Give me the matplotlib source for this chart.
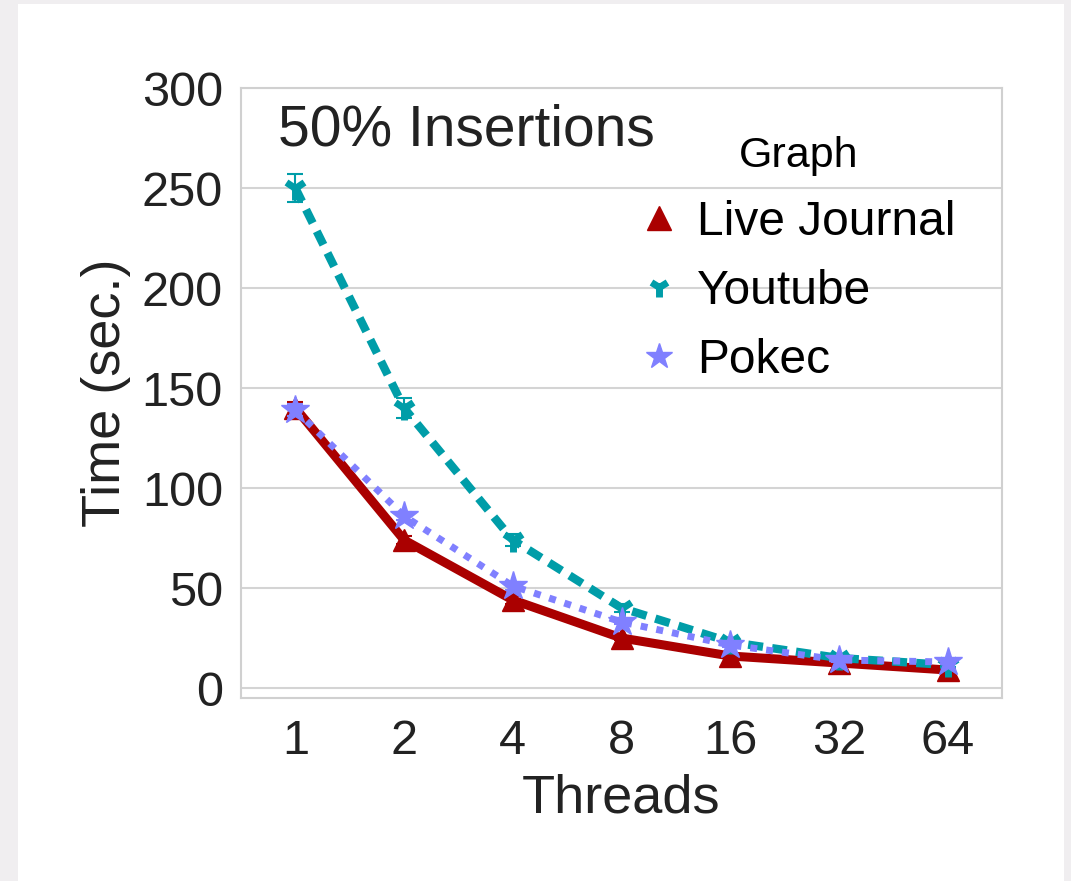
import numpy as np
import matplotlib
matplotlib.use("Agg")
import matplotlib.pyplot as plt
from matplotlib.patches import Rectangle

plt.rcParams['font.family'] = ['Liberation Sans', 'DejaVu Sans']

threads = ["1", "2", "4", "8", "16", "32", "64"]
live_journal = [140, 74, 44, 25, 16, 12.5, 9]
youtube = [250, 140, 74, 40, 23, 15, 11.5]
pokec = [139, 86, 51, 33, 21.5, 14, 13]
live_journal_err = [3, 2, 2, 1, 1, 1, 1]
youtube_err = [7, 5, 3, 2, 1, 1, 1]
pokec_err = [3, 2, 2, 1, 1, 1, 1]

fig = plt.figure(figsize=(10.71, 8.81), dpi=100)
fig.patch.set_facecolor("#f0eef0")
# white card on the grey page
fig.patches.append(Rectangle((18 / 1071, 0), (1064 - 18) / 1071, (881 - 4) / 881,
                             transform=fig.transFigure, facecolor="white",
                             edgecolor="none", zorder=-5))

ax = fig.add_axes([241 / 1071, 1 - 698 / 881, (1002 - 241) / 1071, (698 - 88) / 881])
ax.set_facecolor("white")
x = np.arange(len(threads))

series = [
    ("Live Journal", live_journal, live_journal_err, "#aa0000",
     dict(lw=6.5, ls="-", marker="^", ms=16), 17),
    ("Youtube", youtube, youtube_err, "#009da8",
     dict(lw=6, ls=(0, (1.8, 1.1)), marker="1", ms=17, mew=5), 14),
    ("Pokec", pokec, pokec_err, "#8080ff",
     dict(lw=5, ls=(0, (1, 1.3)), marker="*", ms=21), 19),
]
for i, (name, vals, err, col, kw, _) in enumerate(series):
    ax.errorbar(x, vals, yerr=err, color=col, ls="none", capsize=6,
                elinewidth=1.5, capthick=1.5, zorder=3 + i)
    ax.plot(x, vals, color=col, label=name, zorder=3 + i, **kw)

ax.set_xlim(-0.5, len(threads) - 0.5)
ax.set_ylim(-5, 300)
ax.set_xticks(x)
ax.set_xticklabels(threads)
ax.set_yticks(np.arange(0, 301, 50))
ax.tick_params(axis="both", length=0, labelsize=35, colors="#222222")
ax.tick_params(axis="x", pad=15)
ax.tick_params(axis="y", pad=13)
ax.yaxis.grid(True, color="#d4d4d4", lw=1.5)
ax.set_axisbelow(True)
for s in ax.spines.values():
    s.set_color("#d0d0d0")
    s.set_linewidth(1.5)

ax.set_xlabel("Threads", fontsize=39, color="#222222", labelpad=7)
ax.set_ylabel("Time (sec.)", fontsize=39, color="#222222", labelpad=8)
ax.text(0.048, 0.975, "50% Insertions", transform=ax.transAxes, fontsize=41,
        color="#222222", va="top", ha="left")

leg = ax.legend(loc="upper left", bbox_to_anchor=(0.483, 0.976), frameon=False,
                fontsize=34.5, title="Graph", title_fontsize=31,
                handlelength=0.7, handletextpad=0.45, labelspacing=0.5,
                borderpad=0.2)
for h, s in zip(leg.legend_handles, series):
    h.set_linestyle("none")
    h.set_markersize(s[5])

fig.savefig("out.png", dpi=100, facecolor=fig.get_facecolor())
